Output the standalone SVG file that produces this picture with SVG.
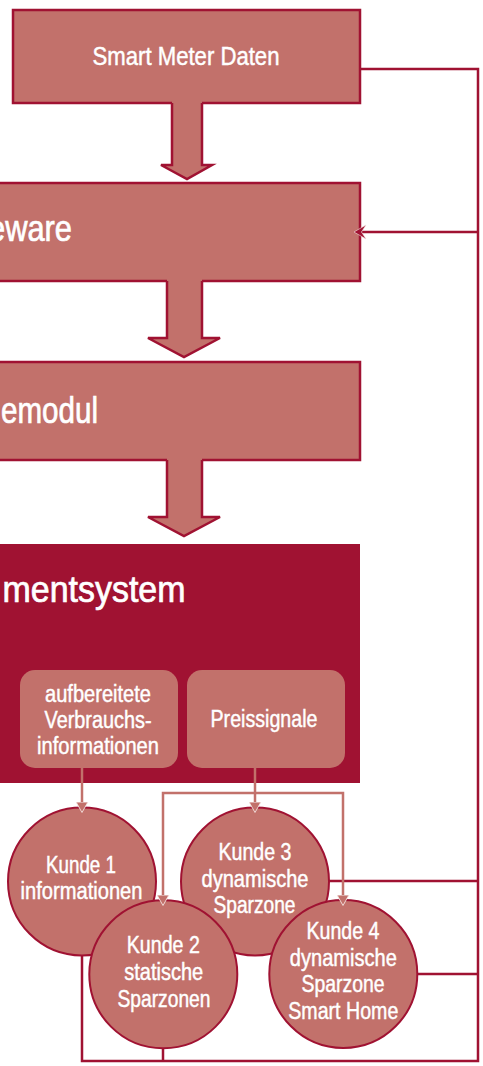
<svg xmlns="http://www.w3.org/2000/svg" width="483" height="1066" viewBox="0 0 483 1066">
  <style>
    .box { fill: #C2716B; stroke: #A01232; stroke-width: 2.5; }
    .flow-fill { fill: #C2716B; stroke: none; }
    .flow-edge { fill: none; stroke: #A01232; stroke-width: 2.5; stroke-linejoin: miter; }
    .panel { fill: #A01232; }
    .tile { fill: #C2716B; }
    .kunde { fill: #C2716B; stroke: #A01232; stroke-width: 2; }
    .dark-line { fill: none; stroke: #A01232; stroke-width: 2.5; }
    .light-line { fill: none; stroke: #C2716B; stroke-width: 2.5; }
    text { font-family: "Liberation Sans", Arial, sans-serif; fill: #ffffff; stroke: #ffffff; stroke-width: 0.45; paint-order: stroke; }
    .title { font-size: 36px; stroke-width: 0.7; }
    .lead { font-size: 25px; text-anchor: middle; }
    .label { font-size: 23px; text-anchor: middle; }
  </style>
  <defs>
    <marker id="lightHead" viewBox="0 0 12 13" refX="10.5" refY="6.5" markerWidth="12" markerHeight="13" markerUnits="userSpaceOnUse" orient="auto-start-reverse">
      <polygon points="0.6,0.6 0.6,12.4 11,6.5" fill="#C2716B" stroke="#F4E2E0" stroke-width="0.9"/>
    </marker>
  </defs>

  <!-- stage 1 -->
  <g id="stage1">
    <rect class="box" x="13" y="10" width="347" height="93"/>
    <text class="lead" x="186" y="65" textLength="187" lengthAdjust="spacingAndGlyphs">Smart Meter Daten</text>
  </g>
  <g id="flow1">
    <path class="flow-fill" d="M172,100 V165 H161 L187,179 L212,165 H202 V100 Z"/>
    <path class="flow-edge" d="M172,103 V165 H161 L187,179 L212,165 H202 V103"/>
  </g>

  <!-- stage 2 -->
  <g id="stage2">
    <rect class="box" x="-5" y="183" width="365" height="98"/>
    <text class="title" x="72" y="241" text-anchor="end" textLength="84" lengthAdjust="spacingAndGlyphs">eware</text>
  </g>
  <g id="flow2">
    <path class="flow-fill" d="M167,278 V338 H148 L184,357 L220,338 H202 V278 Z"/>
    <path class="flow-edge" d="M167,281 V338 H148 L184,357 L220,338 H202 V281"/>
  </g>

  <!-- stage 3 -->
  <g id="stage3">
    <rect class="box" x="-5" y="362" width="365" height="98"/>
    <text class="title" x="98" y="423" text-anchor="end" textLength="97" lengthAdjust="spacingAndGlyphs">emodul</text>
  </g>
  <g id="flow3">
    <path class="flow-fill" d="M167,457 V517 H148 L184,536 L220,517 H202 V457 Z"/>
    <path class="flow-edge" d="M167,460 V517 H148 L184,536 L220,517 H202 V460"/>
  </g>

  <!-- stage 4: system panel with its two outputs -->
  <g id="stage4">
    <rect class="panel" x="-5" y="544" width="365" height="239"/>
    <text class="title" x="185.5" y="602" text-anchor="end" textLength="183" lengthAdjust="spacingAndGlyphs">mentsystem</text>
  </g>
  <g id="output-info">
    <rect class="tile" x="20" y="670" width="158" height="98" rx="15" ry="15"/>
    <text class="label" x="98" y="702" textLength="106" lengthAdjust="spacingAndGlyphs">aufbereitete</text>
    <text class="label" x="98" y="728" textLength="107" lengthAdjust="spacingAndGlyphs">Verbrauchs-</text>
    <text class="label" x="98" y="754" textLength="122" lengthAdjust="spacingAndGlyphs">informationen</text>
  </g>
  <g id="output-price">
    <rect class="tile" x="187" y="670" width="158" height="98" rx="15" ry="15"/>
    <text class="label" x="264" y="727" textLength="107" lengthAdjust="spacingAndGlyphs">Preissignale</text>
  </g>

  <!-- connectors -->
  <g id="connectors">
    <!-- feedback loop on the right -->
    <polyline class="dark-line" points="360,69 478,69 478,1061 82,1061 82,955"/>
    <line class="dark-line" x1="163" y1="1061" x2="163" y2="1048"/>
    <line class="dark-line" x1="478" y1="232" x2="362" y2="232"/>
    <polygon points="354,232 366,225 361.5,232 366,239" fill="#A01232" stroke="#F4E2E0" stroke-width="0.6"/>
    <line class="dark-line" x1="329" y1="881" x2="478" y2="881"/>
    <line class="dark-line" x1="417" y1="974" x2="478" y2="974"/>
  </g>

  <!-- customers -->
  <g id="kunde1">
    <circle class="kunde" cx="82" cy="881.5" r="74"/>
    <text class="label" x="81" y="873" textLength="70" lengthAdjust="spacingAndGlyphs">Kunde 1</text>
    <text class="label" x="81.5" y="899" textLength="122" lengthAdjust="spacingAndGlyphs">informationen</text>
  </g>
  <g id="kunde3">
    <circle class="kunde" cx="255" cy="881.5" r="74"/>
    <text class="label" x="255" y="860" textLength="73" lengthAdjust="spacingAndGlyphs">Kunde 3</text>
    <text class="label" x="255" y="887" textLength="107" lengthAdjust="spacingAndGlyphs">dynamische</text>
    <text class="label" x="254.5" y="913" textLength="82" lengthAdjust="spacingAndGlyphs">Sparzone</text>
  </g>
  <g id="kunde2">
    <circle class="kunde" cx="163.3" cy="974.3" r="74"/>
    <text class="label" x="163.3" y="953" textLength="73" lengthAdjust="spacingAndGlyphs">Kunde 2</text>
    <text class="label" x="163.7" y="980" textLength="79" lengthAdjust="spacingAndGlyphs">statische</text>
    <text class="label" x="164" y="1007" textLength="93" lengthAdjust="spacingAndGlyphs">Sparzonen</text>
  </g>
  <g id="kunde4">
    <circle class="kunde" cx="343.3" cy="974" r="74"/>
    <text class="label" x="343" y="939" textLength="73" lengthAdjust="spacingAndGlyphs">Kunde 4</text>
    <text class="label" x="343.3" y="966" textLength="107" lengthAdjust="spacingAndGlyphs">dynamische</text>
    <text class="label" x="343" y="992" textLength="83" lengthAdjust="spacingAndGlyphs">Sparzone</text>
    <text class="label" x="343.3" y="1019" textLength="110" lengthAdjust="spacingAndGlyphs">Smart Home</text>
  </g>

  <!-- signal lines from the system outputs to the customers -->
  <g id="signal-connectors">
    <line class="light-line" x1="82" y1="768" x2="82" y2="812" marker-end="url(#lightHead)"/>
    <line class="light-line" x1="255" y1="768" x2="255" y2="812" marker-end="url(#lightHead)"/>
    <polyline class="light-line" points="163,905 163,793 343,793 343,905" marker-start="url(#lightHead)" marker-end="url(#lightHead)"/>
  </g>
</svg>
